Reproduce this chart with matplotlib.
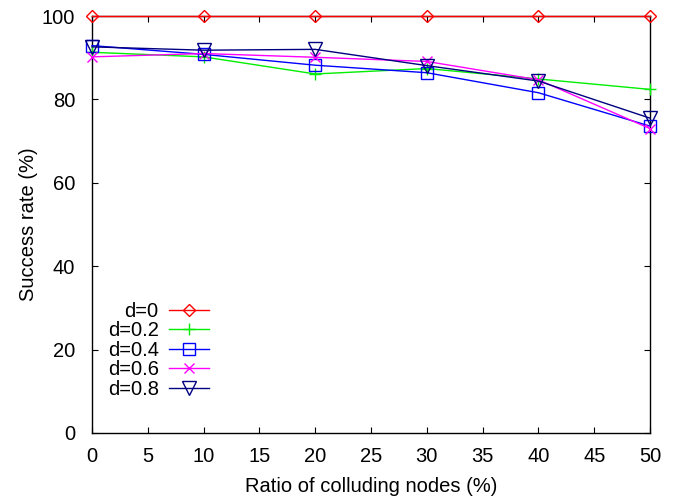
import matplotlib
matplotlib.use("Agg")
import matplotlib.pyplot as plt

plt.rcParams['font.family'] = ['Liberation Sans', 'DejaVu Sans']

x = [0, 10, 20, 30, 40, 50]
d0 = [100, 100, 100, 100, 100, 100]
d02 = [91.3, 90.2, 86.1, 87.4, 84.9, 82.4]
d04 = [92.9, 90.8, 88.2, 86.4, 81.6, 73.6]
d06 = [90.2, 91.0, 90.1, 89.1, 84.7, 73.0]
d08 = [92.6, 91.8, 92.0, 88.1, 84.4, 75.5]

labels = ['d=0', 'd=0.2', 'd=0.4', 'd=0.6', 'd=0.8']
colors = ['#ff0000', '#00ee00', '#0000ff', '#ff00ff', '#000080']
markers = ['D', '+', 's', 'x', 'v']
msizes = [5.8, 8, 8, 7.5, 10]
series = [d0, d02, d04, d06, d08]

FS = 14.5
W, H = 678, 497
fig = plt.figure(figsize=(W / 100, H / 100), dpi=100)
ax = fig.add_axes([92 / W, 1 - 433 / H, (650 - 92) / W, (433 - 16) / H])

for ys, lab, c, m, ms in zip(series, labels, colors, markers, msizes):
    ax.plot(x, ys, color=c, marker=m, markersize=ms, markerfacecolor='none',
            markeredgecolor=c, markeredgewidth=1.0, linewidth=1.0, label=lab,
            clip_on=False, zorder=3)

ax.set_xlim(0, 50)
ax.set_ylim(0, 100)
ax.set_xticks(range(0, 51, 5))
ax.set_yticks(range(0, 101, 20))
ax.tick_params(direction='in', length=4, width=0.8, top=True, right=True,
               labelsize=FS, colors='black')
ax.tick_params(axis='y', pad=12)
ax.tick_params(axis='x', pad=10)
for s in ax.spines.values():
    s.set_linewidth(1.0)
ax.set_xlabel('Ratio of colluding nodes (%)', fontsize=FS, labelpad=8)
ax.set_ylabel('Success rate (%)', fontsize=FS, labelpad=3)

leg = ax.legend(loc='upper right', bbox_to_anchor=(209 / W, 1 - 302 / H),
                bbox_transform=fig.transFigure, markerfirst=False, frameon=False,
                fontsize=FS, handlelength=2.0, labelspacing=0.02,
                handletextpad=0.5, borderpad=0, borderaxespad=0)

fig.savefig('out.png', dpi=100)
